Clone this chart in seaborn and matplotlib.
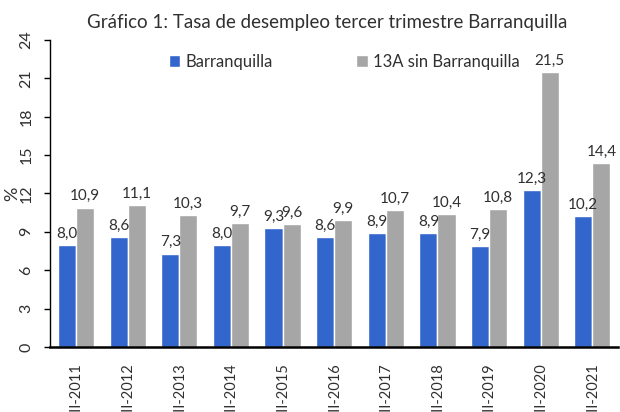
import numpy as np
import pandas as pd
import matplotlib
matplotlib.use("Agg")
import matplotlib.pyplot as plt
import seaborn as sns

periods = ["III-2011", "III-2012", "III-2013", "III-2014", "III-2015", "III-2016",
           "III-2017", "III-2018", "III-2019", "III-2020", "III-2021"]
barranquilla = [8.0, 8.6, 7.3, 8.0, 9.3, 8.6, 8.9, 8.9, 7.9, 12.3, 10.2]
sin_barranquilla = [10.9, 11.1, 10.3, 9.7, 9.6, 9.9, 10.7, 10.4, 10.8, 21.5, 14.4]
series_names = ["Barranquilla", "13A sin Barranquilla"]
yticks = [0, 3, 6, 9, 12, 15, 18, 21, 24]

df = pd.DataFrame({
    "periodo": periods * 2,
    "serie": [series_names[0]] * len(periods) + [series_names[1]] * len(periods),
    "tasa": barranquilla + sin_barranquilla,
})

sns.set_theme(style="white")
plt.rcParams["font.family"] = ["Lato", "DejaVu Sans"]

fig = plt.figure(figsize=(6.2, 4.12), dpi=100)
ax = fig.add_axes([0.081, 0.158, 0.916, 0.745])

palette = {series_names[0]: "#3366CC", series_names[1]: "#A6A6A6"}
sns.barplot(data=df, x="periodo", y="tasa", hue="serie", order=periods,
            hue_order=series_names, palette=palette, width=0.7, saturation=1,
            ax=ax, legend=True)

for cont in ax.containers:
    labels = [f"{v:.1f}".replace(".", ",") for v in cont.datavalues]
    ax.bar_label(cont, labels=labels, padding=3, fontsize=11, color="#303030")

ax.set_ylim(0, 24)
ax.set_xlim(-0.5, len(periods) - 0.5)
ax.set_yticks(yticks)
ax.set_yticklabels([str(t) for t in yticks], rotation=90, va="center", fontsize=11.5, color="#303030")
ax.tick_params(axis="y", left=True, length=4, width=1, color="black", pad=8)
ax.tick_params(axis="x", bottom=False, pad=5)
for lbl in ax.get_xticklabels():
    lbl.set_rotation(90)
    lbl.set_fontsize(10.5)
    lbl.set_color("#303030")
    lbl.set_va("top")
ax.set_xlabel("")
ax.set_ylabel("%", fontsize=13, color="#303030", rotation=90)
ax.yaxis.set_label_coords(-0.052, 0.5)

for s in ["top", "right"]:
    ax.spines[s].set_visible(False)
ax.spines["left"].set_color("black")
ax.spines["left"].set_linewidth(1)
ax.spines["bottom"].set_color("black")
ax.spines["bottom"].set_linewidth(1.8)

handles, labs = ax.get_legend_handles_labels()
ax.legend(handles, labs, loc="center", bbox_to_anchor=(0.555, 0.85),
          bbox_transform=fig.transFigure, ncol=2, frameon=False,
          fontsize=12, handlelength=0.7, handleheight=0.7, handletextpad=0.3,
          columnspacing=5.0, labelcolor="#303030")

fig.text(0.528, 0.945, "Gráfico 1: Tasa de desempleo tercer trimestre Barranquilla",
         ha="center", va="center", fontsize=13.5, color="#303030")

fig.savefig("out.png", dpi=100)
